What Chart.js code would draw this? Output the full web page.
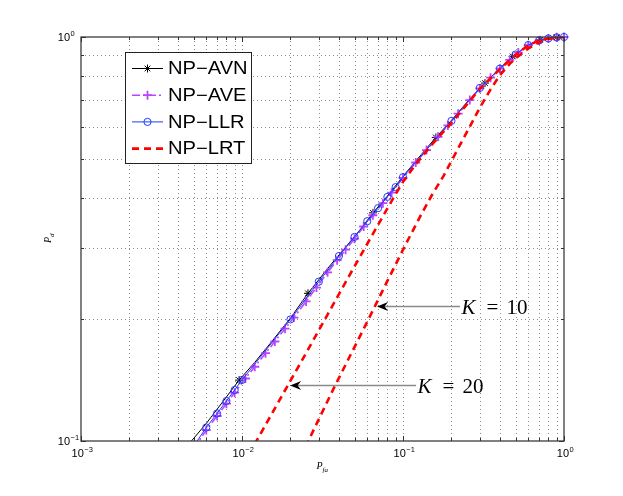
<!DOCTYPE html>
<html>
<head>
<meta charset="utf-8">
<script src="https://cdn.jsdelivr.net/npm/chart.js@4.4.1/dist/chart.umd.min.js"></script>
<style>
html,body{margin:0;padding:0;background:#fff;}
#wrap{width:623px;height:496px;position:relative;}
</style>
</head>
<body>
<div id="wrap"><canvas id="c" width="623" height="496"></canvas></div>
<script>
// ---------------- data ----------------
const seriesNames = ['NP\u2212AVN', 'NP\u2212AVE', 'NP\u2212LLR', 'NP\u2212LRT'];

// NP-AVN (black, * markers)
const avnPfa = [0.0045,0.006,0.008,0.0096,0.012,0.015,0.02,0.0257,0.035,0.045,0.055,0.0651,0.08,0.1,0.13,0.16,0.2,0.25,0.323,0.4,0.48,0.6,0.71,0.8,0.9,1.0];
const avnPd  = [0.0965,0.1105,0.1285,0.1415,0.1565,0.1745,0.2015,0.232,0.271,0.305,0.336,0.367,0.404,0.452,0.512,0.564,0.622,0.690,0.769,0.837,0.895,0.956,0.984,0.993,0.998,1.0];
const avnMarkPfa = [0.0096,0.0257,0.0651,0.16,0.323,0.48,0.71,0.9];
const avnMarkPd  = [0.1415,0.232,0.367,0.564,0.769,0.895,0.984,0.998];

// NP-AVE (magenta, + markers)
const avePfa = [0.005,0.006,0.007,0.008,0.009,0.0105,0.012,0.014,0.016,0.0185,0.021,0.025,0.029,0.034,0.039,0.044,0.05,0.057,0.065,0.075,0.085,0.1,0.12,0.14,0.165,0.19,0.22,0.26,0.3,0.35,0.4,0.46,0.52,0.6,0.7,0.8,0.9,1.0];
const avePd  = [0.0955,0.1064,0.1153,0.1237,0.1317,0.1428,0.1527,0.165,0.1763,0.1897,0.2021,0.2216,0.2398,0.2615,0.2802,0.2976,0.3168,0.3396,0.3621,0.3879,0.4117,0.448,0.489,0.525,0.566,0.604,0.646,0.698,0.746,0.793,0.835,0.878,0.915,0.954,0.980,0.992,0.998,1.0];

// NP-LLR (blue, o markers)
const llrPfa = [0.005,0.006,0.007,0.008,0.009,0.01,0.02,0.03,0.04,0.05,0.06,0.07,0.08,0.09,0.1,0.2,0.3,0.4,0.5,0.6,0.7,0.8,0.9,1.0];
const llrPd  = [0.097,0.108,0.117,0.1256,0.1337,0.1416,0.200,0.248,0.287,0.320,0.350,0.377,0.402,0.425,0.450,0.620,0.748,0.835,0.905,0.955,0.980,0.992,0.998,1.0];

// NP-LRT (red dashed), K = 20 and K = 10
const lrtK20Pfa = [0.011,0.0123,0.019,0.025,0.0334,0.0447,0.0623,0.087,0.1,0.12,0.15,0.2,0.3,0.4,0.5,0.6,0.7,0.8,0.9,1.0];
const lrtK20Pd  = [0.0925,0.1,0.136,0.165,0.203,0.250,0.316,0.399,0.438,0.484,0.540,0.613,0.744,0.833,0.903,0.954,0.980,0.992,0.998,1.0];
const lrtK10Pfa = [0.023,0.0258,0.0378,0.061,0.080,0.1054,0.13,0.15,0.178,0.22,0.26,0.30,0.35,0.40,0.46,0.5,0.6,0.7,0.8,0.9,1.0];
const lrtK10Pd  = [0.091,0.1,0.137,0.200,0.249,0.310,0.364,0.404,0.452,0.530,0.600,0.668,0.742,0.805,0.858,0.885,0.937,0.971,0.989,0.997,1.0];

// annotations: label, arrow tip (Pfa, Pd), arrow tail Pfa
const annLabels  = ['20', '10'];
const annTipPfa  = [0.0199, 0.069];
const annTipPd   = [0.1376, 0.216];
const annTailPfa = [0.1205, 0.226];

// axes
const xMin = 0.001, xMax = 1, yMin = 0.1, yMax = 1;
const xGridVals = [0.002,0.003,0.004,0.005,0.006,0.007,0.008,0.009,0.01,0.02,0.03,0.04,0.05,0.06,0.07,0.08,0.09,0.1,0.2,0.3,0.4,0.5,0.6,0.7,0.8,0.9];
const yGridVals = [0.2,0.3,0.4,0.5,0.6,0.7,0.8,0.9];
const xMajor = [0.001,0.01,0.1,1];
const xMajorExp = ['\u22123','\u22122','\u22121','0'];
const yMajor = [0.1,1];
const yMajorExp = ['\u22121','0'];

// ---------------- helpers ----------------
function pts(xs, ys){ return xs.map((x,i)=>({x:x, y:ys[i]})); }

const C_AVN = '#000000';
const C_AVE = '#bb44ff';
const C_LLR = 'rgb(30,60,255)';
const C_LRT = '#ff0000';

const lineStyles = [
  {color:C_AVN, width:1, dash:[], marker:'star', r:4, mw:1},
  {color:C_AVE, width:1.6, dash:[8,3,2,3], marker:'cross', r:4.5, mw:1.8},
  {color:C_LLR, width:1, dash:[], marker:'circle', r:3.6, mw:1},
  {color:C_LRT, width:2.6, dash:[7,5], marker:null, r:0, mw:0}
];

function lineDS(data, st, order){
  return {data:data, showLine:true, borderColor:st.color, borderWidth:st.width, borderDash:st.dash,
    pointRadius:0, pointHoverRadius:0, tension:0, fill:false, clip:0, order:order};
}
function markDS(data, st, order){
  return {data:data, showLine:false, pointStyle:st.marker, pointRadius:st.r, pointHoverRadius:st.r,
    pointBorderColor:st.color, pointBackgroundColor:'rgba(0,0,0,0)', pointBorderWidth:st.mw,
    borderColor:st.color, backgroundColor:'rgba(0,0,0,0)',
    clip:{left:false, right:false, top:false, bottom:0}, order:order};
}

function drawMarker(ctx, type, x, y, r, color, w){
  ctx.save();
  ctx.strokeStyle = color; ctx.lineWidth = w; ctx.setLineDash([]);
  ctx.beginPath();
  if (type === 'circle') { ctx.arc(x, y, r, 0, Math.PI*2); }
  else if (type === 'cross') { ctx.moveTo(x-r,y); ctx.lineTo(x+r,y); ctx.moveTo(x,y-r); ctx.lineTo(x,y+r); }
  else if (type === 'star') {
    ctx.moveTo(x-r,y); ctx.lineTo(x+r,y); ctx.moveTo(x,y-r); ctx.lineTo(x,y+r);
    const d = r*0.707; ctx.moveTo(x-d,y-d); ctx.lineTo(x+d,y+d); ctx.moveTo(x-d,y+d); ctx.lineTo(x+d,y-d);
  }
  ctx.stroke();
  ctx.restore();
}

const gridPlugin = {
  id:'matlabGrid',
  beforeDatasetsDraw(chart){
    const ctx = chart.ctx, a = chart.chartArea, xs = chart.scales.x, ys = chart.scales.y;
    ctx.save();
    ctx.strokeStyle = 'rgba(90,90,90,0.7)';
    ctx.lineWidth = 1;
    ctx.setLineDash([1,3]);
    xGridVals.forEach(v=>{
      const px = Math.round(xs.getPixelForValue(v)) + 0.5;
      ctx.beginPath(); ctx.moveTo(px, a.top); ctx.lineTo(px, a.bottom); ctx.stroke();
    });
    yGridVals.forEach(v=>{
      const py = Math.round(ys.getPixelForValue(v)) + 0.5;
      ctx.beginPath(); ctx.moveTo(a.left, py); ctx.lineTo(a.right, py); ctx.stroke();
    });
    ctx.restore();
  }
};

function drawPow(ctx, exp, x, y, align){
  ctx.save();
  ctx.fillStyle = '#000';
  ctx.textBaseline = 'alphabetic';
  ctx.textAlign = 'left';
  ctx.font = '11px "Liberation Sans", Arial, sans-serif';
  const wb = ctx.measureText('10').width;
  ctx.font = '7.5px "Liberation Sans", Arial, sans-serif';
  const we = ctx.measureText(exp).width;
  let x0 = align === 'center' ? x - (wb + we)/2 : x - wb;
  ctx.font = '11px "Liberation Sans", Arial, sans-serif';
  ctx.fillText('10', x0, y);
  ctx.font = '7.5px "Liberation Sans", Arial, sans-serif';
  ctx.fillText(exp, x0 + wb + 0.5, y - 5);
  ctx.restore();
}

const overlayPlugin = {
  id:'matlabOverlay',
  afterDatasetsDraw(chart){
    const ctx = chart.ctx, a = chart.chartArea, xs = chart.scales.x, ys = chart.scales.y;
    ctx.save();
    // axes box
    ctx.setLineDash([]);
    ctx.strokeStyle = '#3c3c3c';
    ctx.lineWidth = 1.3;
    ctx.strokeRect(a.left, a.top, a.right - a.left, a.bottom - a.top);
    // ticks (inside, all four sides)
    ctx.lineWidth = 1;
    ctx.strokeStyle = '#333';
    xGridVals.concat(xMajor).forEach(v=>{
      const px = Math.round(xs.getPixelForValue(v)) + 0.5;
      const L = xMajor.includes(v) ? 5 : 3;
      ctx.beginPath();
      ctx.moveTo(px, a.bottom); ctx.lineTo(px, a.bottom - L);
      ctx.moveTo(px, a.top); ctx.lineTo(px, a.top + L);
      ctx.stroke();
    });
    yGridVals.concat(yMajor).forEach(v=>{
      const py = Math.round(ys.getPixelForValue(v)) + 0.5;
      const L = yMajor.includes(v) ? 5 : 3;
      ctx.beginPath();
      ctx.moveTo(a.left, py); ctx.lineTo(a.left + L, py);
      ctx.moveTo(a.right, py); ctx.lineTo(a.right - L, py);
      ctx.stroke();
    });
    // tick labels
    xMajor.forEach((v,i)=>{
      drawPow(ctx, xMajorExp[i], xs.getPixelForValue(v) + 1, a.bottom + 16, 'center');
    });
    yMajor.forEach((v,i)=>{
      drawPow(ctx, yMajorExp[i], a.left - 11, ys.getPixelForValue(v) + 4, 'rightBase');
    });
    // axis titles
    ctx.fillStyle = '#000';
    ctx.textBaseline = 'alphabetic';
    ctx.textAlign = 'left';
    const xtx = (a.left + a.right)/2 - 6, xty = a.bottom + 28;
    ctx.font = 'italic 10px "Liberation Serif", "DejaVu Serif", serif';
    ctx.fillText('P', xtx, xty);
    const wP = ctx.measureText('P').width;
    ctx.font = 'italic 7px "Liberation Serif", "DejaVu Serif", serif';
    ctx.fillText('fa', xtx + wP, xty + 2.5);
    ctx.save();
    ctx.translate(a.left - 30, (a.top + a.bottom)/2 + 4);
    ctx.rotate(-Math.PI/2);
    ctx.font = 'italic 10px "Liberation Serif", "DejaVu Serif", serif';
    ctx.fillText('P', 0, 0);
    const wP2 = ctx.measureText('P').width;
    ctx.font = 'italic 7px "Liberation Serif", "DejaVu Serif", serif';
    ctx.fillText('d', wP2, 2.5);
    ctx.restore();

    // annotations (arrows + K labels)
    annLabels.forEach((lab,i)=>{
      const tx = xs.getPixelForValue(annTipPfa[i]);
      const ty = Math.round(ys.getPixelForValue(annTipPd[i])) + 0.5;
      const ex = xs.getPixelForValue(annTailPfa[i]);
      ctx.strokeStyle = '#8a8a8a';
      ctx.lineWidth = 1.5;
      ctx.beginPath(); ctx.moveTo(tx + 6, ty); ctx.lineTo(ex, ty); ctx.stroke();
      ctx.fillStyle = '#000';
      ctx.beginPath();
      ctx.moveTo(tx, ty);
      ctx.lineTo(tx + 11, ty - 4.5);
      ctx.lineTo(tx + 7.5, ty);
      ctx.lineTo(tx + 11, ty + 4.5);
      ctx.closePath();
      ctx.fill();
      const bx = ex + 1.5, by = ty + 7;
      ctx.font = 'italic 21px "Liberation Serif", "DejaVu Serif", serif';
      ctx.fillText('K', bx, by);
      ctx.font = '21px "Liberation Serif", "DejaVu Serif", serif';
      ctx.fillText('=', bx + 25, by);
      ctx.fillText(lab, bx + 45, by);
    });

    // legend
    const lx = a.left + 44, ly = a.top + 15, lw = 126, lh = 111;
    ctx.fillStyle = '#fff';
    ctx.fillRect(lx, ly, lw, lh);
    ctx.strokeStyle = '#222';
    ctx.lineWidth = 1;
    ctx.setLineDash([]);
    ctx.strokeRect(lx + 0.5, ly + 0.5, lw, lh);
    seriesNames.forEach((name,i)=>{
      const st = lineStyles[i];
      const yy = ly + 16.5 + i*26.7;
      ctx.save();
      ctx.strokeStyle = st.color;
      ctx.lineWidth = st.width;
      ctx.setLineDash(st.dash);
      ctx.beginPath(); ctx.moveTo(lx + 7, yy); ctx.lineTo(lx + 38, yy); ctx.stroke();
      ctx.restore();
      if (st.marker) drawMarker(ctx, st.marker, lx + 22.5, yy, st.r, st.color, st.mw);
      ctx.save();
      ctx.fillStyle = '#000';
      ctx.font = '17.5px "Liberation Sans", Arial, sans-serif';
      ctx.textBaseline = 'middle';
      ctx.translate(lx + 43, yy + 1);
      ctx.scale(1.15, 1);
      ctx.fillText(name, 0, 0);
      ctx.restore();
    });
    ctx.restore();
  }
};

const datasets = [
  lineDS(pts(lrtK20Pfa, lrtK20Pd), lineStyles[3], 0),
  lineDS(pts(lrtK10Pfa, lrtK10Pd), lineStyles[3], 0),
  markDS(pts(llrPfa, llrPd), lineStyles[2], 1),
  lineDS(pts(llrPfa, llrPd), lineStyles[2], 2),
  markDS(pts(avePfa, avePd), lineStyles[1], 3),
  lineDS(pts(avePfa, avePd), lineStyles[1], 4),
  markDS(pts(avnMarkPfa, avnMarkPd), lineStyles[0], 5),
  lineDS(pts(avnPfa, avnPd), lineStyles[0], 6)
];

new Chart(document.getElementById('c').getContext('2d'), {
  type:'scatter',
  data:{datasets:datasets},
  options:{
    responsive:false,
    animation:false,
    events:[],
    layout:{padding:{left:81, right:59, top:37, bottom:55}},
    plugins:{legend:{display:false}, tooltip:{enabled:false}, title:{display:false}},
    scales:{
      x:{type:'logarithmic', min:xMin, max:xMax, display:false},
      y:{type:'logarithmic', min:yMin, max:yMax, display:false}
    }
  },
  plugins:[gridPlugin, overlayPlugin]
});
</script>
</body>
</html>
